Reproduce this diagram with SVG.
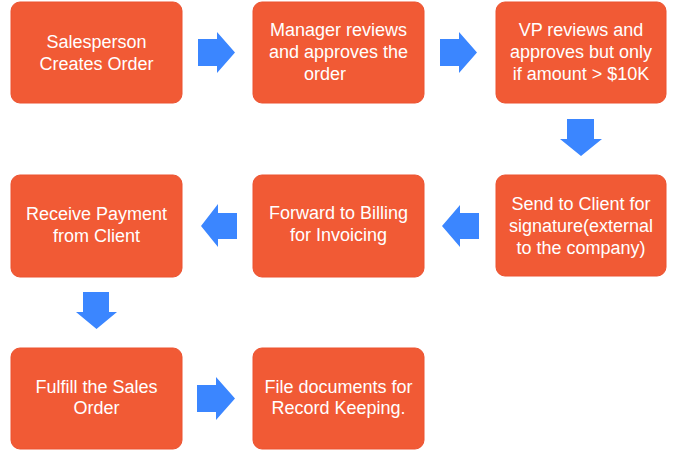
<svg xmlns="http://www.w3.org/2000/svg" width="676" height="450" viewBox="0 0 676 450">
<style>
.box{fill:#F15A35;stroke:#EC5230;stroke-width:1}
.t{font-family:"Liberation Sans",Arial,sans-serif;font-size:18px;fill:#FFFFFF;text-anchor:middle}
.arr{fill:#3B86FF}
</style>
<rect width="676" height="450" fill="#FFFFFF"/>
<g id="n1"><rect class="box" x="11" y="2" width="171" height="101" rx="9"/>
<text class="t" x="96.5" y="48">Salesperson</text><text class="t" x="96.5" y="70">Creates Order</text></g>
<g id="n2"><rect class="box" x="253" y="2" width="171" height="101" rx="9"/>
<text class="t" x="338.5" y="36">Manager reviews</text><text class="t" x="338.5" y="58">and approves the</text><text class="t" x="325" y="80">order</text></g>
<g id="n3"><rect class="box" x="496" y="2" width="170" height="101" rx="9"/>
<text class="t" x="581" y="36">VP reviews and</text><text class="t" x="581" y="58">approves but only</text><text class="t" x="581" y="80">if amount &gt; $10K</text></g>
<g id="n4"><rect class="box" x="496" y="175" width="170" height="101" rx="9"/>
<text class="t" x="581" y="210">Send to Client for</text><text class="t" x="581" y="232">signature(external</text><text class="t" x="581" y="254">to the company)</text></g>
<g id="n5"><rect class="box" x="253" y="175" width="171" height="102" rx="9"/>
<text class="t" x="338.5" y="219">Forward to Billing</text><text class="t" x="338.5" y="241">for Invoicing</text></g>
<g id="n6"><rect class="box" x="11" y="175" width="171" height="102" rx="9"/>
<text class="t" x="96.5" y="220">Receive Payment</text><text class="t" x="96.5" y="242">from Client</text></g>
<g id="n7"><rect class="box" x="11" y="348" width="171" height="101" rx="9"/>
<text class="t" x="96.5" y="393">Fulfill the Sales</text><text class="t" x="96.5" y="414">Order</text></g>
<g id="n8"><rect class="box" x="253" y="348" width="171" height="101" rx="9"/>
<text class="t" x="338.5" y="393">File documents for</text><text class="t" x="338.5" y="414">Record Keeping.</text></g>
<g id="connectors">
<path class="arr" d="M198 39 H217 V32 L235 52.5 L217 73 V66 H198 Z"/>
<path class="arr" d="M440 39 H459 V32 L477 52.5 L459 73 V66 H440 Z"/>
<path class="arr" d="M567 119 H594 V139 H602 L581 156 L560 139 H567 Z"/>
<path class="arr" d="M479 213 H460 V205 L442 226 L460 247 V239 H479 Z"/>
<path class="arr" d="M237 213 H218 V204 L201 226 L218 247 V239 H237 Z"/>
<path class="arr" d="M83 292 H109 V312 H117 L96.5 329 L76 312 H83 Z"/>
<path class="arr" d="M197 385 H216 V377 L235 398.5 L216 420 V412 H197 Z"/>
</g>
</svg>
